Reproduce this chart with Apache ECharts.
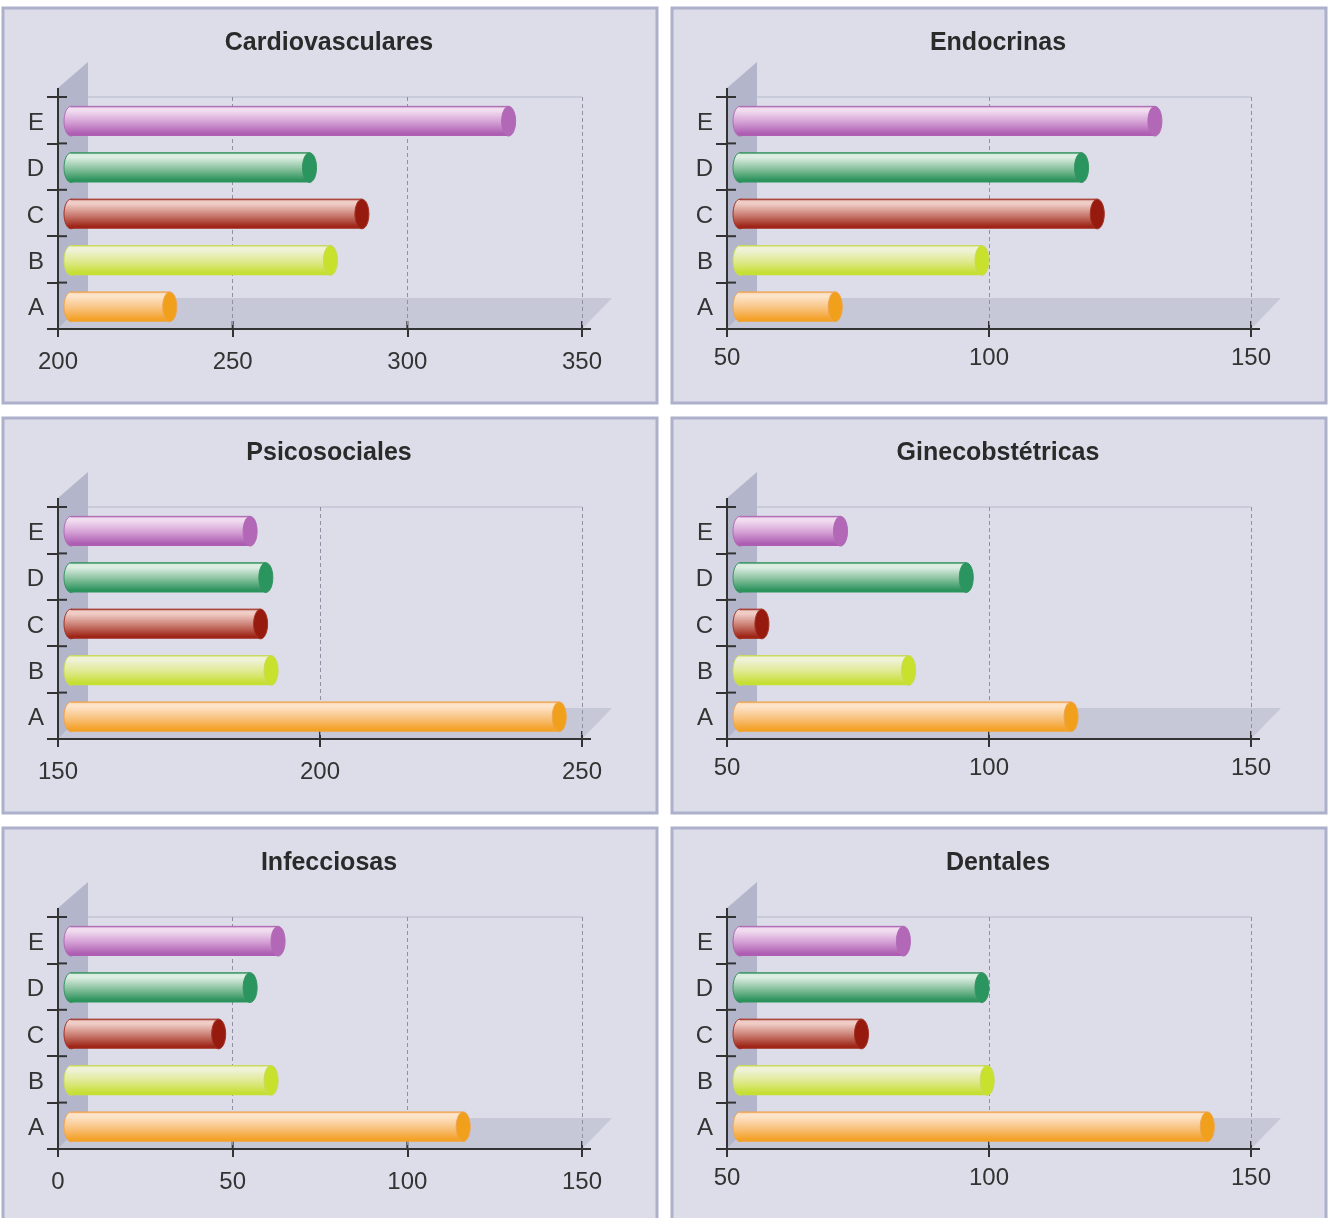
<!DOCTYPE html>
<html>
<head>
<meta charset="utf-8">
<script src="https://cdn.jsdelivr.net/npm/echarts@6/dist/echarts.min.js"></script>
<style>
  html, body { margin: 0; padding: 0; background: #fff; }
  #chart { width: 1329px; height: 1218px; }
</style>
</head>
<body>
<div id="chart"></div>
<script>
// categories run bottom -> top on the y axis
const categories = ['A', 'B', 'C', 'D', 'E'];
const titles = ['Cardiovasculares', 'Endocrinas', 'Psicosociales', 'Ginecobstétricas', 'Infecciosas', 'Dentales'];

// values per panel, in category order A..E
const cardiovasculares = [234, 280, 289, 274, 331];
const endocrinas = [72, 100, 122, 119, 133];
const psicosociales = [247, 192, 190, 191, 188];
const ginecobstetricas = [117, 86, 58, 97, 73];
const infecciosas = [118, 63, 48, 57, 65];
const dentales = [143, 101, 77, 100, 85];

const axisMin = [200, 50, 150, 50, 0, 50];
const axisMax = [350, 150, 250, 150, 150, 150];
const tickStep = 50;

const panelValues = [cardiovasculares, endocrinas, psicosociales, ginecobstetricas, infecciosas, dentales];

// look of each cylinder, A..E
const barColors = [
  { edge: '#eea450', light: '#fde3c8', mid: '#f8c27e', dark: '#f4a127', cap: '#f1a01c' },
  { edge: '#c9da5c', light: '#eff2d6', mid: '#dee98c', dark: '#c6df33', cap: '#c8e12c' },
  { edge: '#a33226', light: '#efcdc6', mid: '#c97a6f', dark: '#9e2517', cap: '#961a0e' },
  { edge: '#34935f', light: '#dcede2', mid: '#86c09c', dark: '#2c935d', cap: '#2a955f' },
  { edge: '#b06cb4', light: '#f0dbef', mid: '#d39dd3', dark: '#ad5db2', cap: '#b267b7' }
];

const FONT = '"Liberation Sans", Arial, sans-serif';
const panels = [[3, 8], [672, 8], [3, 418], [672, 418], [3, 828], [672, 828]];
const panelW = 654, panelH = 395;
const depthX = 30, depthY = 31;

const chart = echarts.init(document.getElementById('chart'));

function makeBackdrop(idx) {
  return function (params, api) {
    const cs = params.coordSys;
    const x = cs.x, y = cs.y, w = cs.width, b = cs.y + cs.height;
    const band = api.size([0, 1])[1];
    const axisStyle = { stroke: '#333', lineWidth: 2 };
    const children = [
      { type: 'polygon', shape: { points: [[x + depthX, b - depthY], [x + w + depthX, b - depthY], [x + w, b], [x, b]] },
        style: { fill: '#c6c8d8' } },
      { type: 'polygon', shape: { points: [[x, y - 9], [x + depthX, y - 35], [x + depthX, b - depthY], [x, b]] },
        style: { fill: '#b3b6cb' } },
      { type: 'line', shape: { x1: x + depthX, y1: y, x2: x + w, y2: y }, style: { stroke: '#c2c4d4', lineWidth: 1.5 } },
      { type: 'line', shape: { x1: x, y1: y - 9, x2: x, y2: y }, style: axisStyle },
      { type: 'line', shape: { x1: x + w, y1: b, x2: x + w + 9, y2: b }, style: axisStyle }
    ];
    // inner halves of the category ticks
    for (let k = 0; k < categories.length; k++) {
      const yy = api.coord([axisMin[idx], k])[1] - band / 2;
      children.push({ type: 'line', shape: { x1: x, y1: yy, x2: x + 9, y2: yy }, style: axisStyle });
    }
    // inner halves of the value ticks
    for (let v = axisMin[idx]; v <= axisMax[idx]; v += tickStep) {
      const xx = api.coord([v, 0])[0];
      children.push({ type: 'line', shape: { x1: xx, y1: b - 8, x2: xx, y2: b }, style: axisStyle });
    }
    return { type: 'group', children: children };
  };
}

function renderCylinder(params, api) {
  const val = api.value(0);
  const k = api.value(1);
  const end = api.coord([val, k]);
  const hh = api.size([0, 1])[1] * 0.64;
  const cy = end[1] + 1;
  const x0 = params.coordSys.x + 6;
  const xe = end[0];
  const c = barColors[k];
  const grad = new echarts.graphic.LinearGradient(0, 0, 0, 1, [
    { offset: 0, color: c.edge },
    { offset: 0.06, color: c.light },
    { offset: 0.16, color: c.light },
    { offset: 0.55, color: c.mid },
    { offset: 0.92, color: c.dark },
    { offset: 1, color: c.dark }
  ]);
  return {
    type: 'group',
    children: [
      { type: 'ellipse', shape: { cx: x0 + 7, cy: cy, rx: 7, ry: hh / 2 }, style: { fill: grad, stroke: c.edge, lineWidth: 1 } },
      { type: 'rect', shape: { x: x0 + 7, y: cy - hh / 2, width: Math.max(0, xe - 7 - (x0 + 7)), height: hh }, style: { fill: grad } },
      { type: 'line', shape: { x1: x0 + 7, y1: cy - hh / 2, x2: xe - 7, y2: cy - hh / 2 }, style: { stroke: c.edge, lineWidth: 1 } },
      { type: 'ellipse', shape: { cx: xe - 7, cy: cy, rx: 7, ry: hh / 2 }, style: { fill: c.cap, stroke: c.edge, lineWidth: 1 } }
    ]
  };
}

const option = {
  animation: false,
  backgroundColor: '#ffffff',
  graphic: panels.map(([px, py]) => ({
    type: 'rect', z: -10, silent: true,
    shape: { x: px, y: py, width: panelW, height: panelH },
    style: { fill: '#dcdde8', stroke: '#adb0cb', lineWidth: 3 }
  })),
  title: panels.map(([px, py], i) => ({
    text: titles[i],
    left: px + 326,
    top: py + 23,
    textAlign: 'center',
    padding: 0,
    textStyle: { fontSize: 25, fontWeight: 'bold', color: '#2a2a2a', fontFamily: FONT }
  })),
  grid: panels.map(([px, py]) => ({ left: px + 55, top: py + 89, width: 524, height: 232 })),
  xAxis: panels.map((p, i) => ({
    gridIndex: i,
    type: 'value',
    min: axisMin[i],
    max: axisMax[i],
    interval: tickStep,
    z: 2,
    axisLine: { show: true, lineStyle: { color: '#333', width: 2 } },
    axisTick: { show: true, length: 8, lineStyle: { color: '#333', width: 2 } },
    axisLabel: { fontSize: 24, color: '#333', fontFamily: FONT, margin: i % 2 ? 17 : 21 },
    splitLine: { show: true, lineStyle: { type: [4, 3], color: '#8e91a4', width: 1 } }
  })),
  yAxis: panels.map((p, i) => ({
    gridIndex: i,
    type: 'category',
    data: categories,
    z: 2,
    axisLine: { show: true, lineStyle: { color: '#333', width: 2 } },
    axisTick: { show: true, length: 11, lineStyle: { color: '#333', width: 2 } },
    axisLabel: {
      margin: 14,
      formatter: '{c|{value}}',
      rich: { c: { fontSize: 24, color: '#333', fontFamily: FONT, padding: [6, 0, 0, 0] } }
    },
    splitLine: { show: false }
  })),
  series: []
};

panels.forEach((p, i) => {
  option.series.push({
    type: 'custom',
    name: 'fondo' + i,
    xAxisIndex: i,
    yAxisIndex: i,
    z: 1,
    silent: true,
    renderItem: makeBackdrop(i),
    data: [[axisMin[i], 0]]
  });
  option.series.push({
    type: 'custom',
    name: titles[i],
    xAxisIndex: i,
    yAxisIndex: i,
    z: 3,
    renderItem: renderCylinder,
    encode: { x: 0, y: 1 },
    data: panelValues[i].map((v, k) => [v, k])
  });
});

chart.setOption(option);
</script>
</body>
</html>
